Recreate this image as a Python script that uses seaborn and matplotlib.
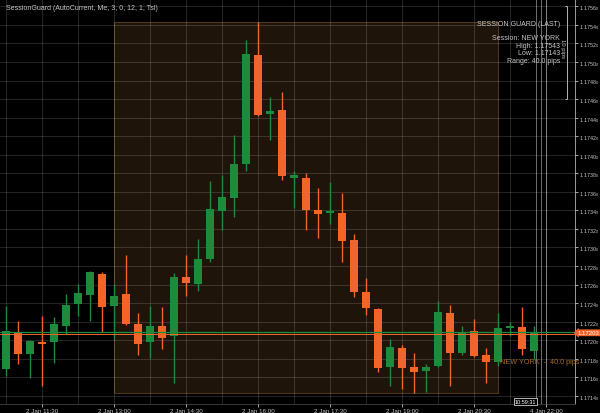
import matplotlib

matplotlib.use("Agg")
import matplotlib.pyplot as plt  # noqa: E402
import numpy as np  # noqa: E402
import seaborn as sns  # noqa: E402
from matplotlib.patches import Rectangle  # noqa: E402

# 15 minute candles, 2 Jan 10:45 .. 21:45
opens = [1.17169, 1.17208, 1.17185, 1.17198, 1.17198, 1.17215, 1.17239, 1.17249, 1.17271, 1.17237,
         1.17250, 1.17218, 1.17198, 1.17215, 1.17204, 1.17268, 1.17261, 1.17288, 1.17339, 1.17353,
         1.17390, 1.17508, 1.17444, 1.17448, 1.17375, 1.17375, 1.17340, 1.17337, 1.17337, 1.17308,
         1.17252, 1.17234, 1.17171, 1.17192, 1.17171, 1.17167, 1.17172, 1.17229, 1.17186, 1.17210,
         1.17184, 1.17177, 1.17213, 1.17214, 1.17188]
highs = [1.17237, 1.17221, 1.17200, 1.17226, 1.17225, 1.17250, 1.17261, 1.17275, 1.17273, 1.17261,
         1.17292, 1.17229, 1.17237, 1.17236, 1.17272, 1.17292, 1.17309, 1.17372, 1.17378, 1.17421,
         1.17524, 1.17543, 1.17462, 1.17468, 1.17382, 1.17380, 1.17364, 1.17371, 1.17359, 1.17315,
         1.17267, 1.17235, 1.17201, 1.17195, 1.17186, 1.17174, 1.17242, 1.17238, 1.17215, 1.17223,
         1.17192, 1.17229, 1.17220, 1.17236, 1.17215]
lows = [1.17161, 1.17174, 1.17159, 1.17151, 1.17175, 1.17207, 1.17226, 1.17221, 1.17209, 1.17201,
        1.17216, 1.17184, 1.17181, 1.17191, 1.17154, 1.17248, 1.17253, 1.17284, 1.17319, 1.17333,
        1.17382, 1.17442, 1.17416, 1.17373, 1.17343, 1.17319, 1.17310, 1.17325, 1.17284, 1.17247,
        1.17227, 1.17166, 1.17151, 1.17147, 1.17143, 1.17144, 1.17171, 1.17151, 1.17184, 1.17182,
        1.17154, 1.17172, 1.17204, 1.17184, 1.17180]
closes = [1.17210, 1.17185, 1.17199, 1.17196, 1.17218, 1.17238, 1.17251, 1.17274, 1.17236, 1.17248,
          1.17218, 1.17196, 1.17215, 1.17202, 1.17268, 1.17262, 1.17288, 1.17341, 1.17354, 1.17390,
          1.17509, 1.17443, 1.17447, 1.17377, 1.17378, 1.17340, 1.17336, 1.17339, 1.17307, 1.17252,
          1.17235, 1.17170, 1.17193, 1.17170, 1.17166, 1.17171, 1.17230, 1.17186, 1.17208, 1.17183,
          1.17177, 1.17213, 1.17214, 1.17190, 1.17209]

time_ticks = [3, 9, 15, 21, 27, 33, 39, 45]
time_labels = ["2 Jan 11:30", "2 Jan 13:00", "2 Jan 14:30", "2 Jan 16:00",
               "2 Jan 17:30", "2 Jan 19:00", "2 Jan 20:30", "4 Jan 22:00"]
price_ticks = [1.1714, 1.1716, 1.1718, 1.1720, 1.1722, 1.1724, 1.1726, 1.1728, 1.1730, 1.1732,
               1.1734, 1.1736, 1.1738, 1.1740, 1.1742, 1.1744, 1.1746, 1.1748, 1.1750, 1.1752,
               1.1754, 1.1756]

session_start, session_end = 9, 41
session_high, session_low = 1.17543, 1.17143
last_bid, last_ask = 1.17209, 1.17207
marker_bars = [44.17, 44.58, 45.0]

GREEN = "#1f8a3b"
ORANGE = "#f2642a"
TEXT = "#c4c4c4"

sns.set_theme(style="dark", rc={"axes.facecolor": "black", "figure.facecolor": "black"})
plt.rcParams["font.family"] = ["Liberation Sans", "DejaVu Sans"]
plt.rcParams["mathtext.default"] = "regular"

fig = plt.figure(figsize=(6, 4.14), dpi=100, facecolor="black")
ax = fig.add_axes([0, 9 / 414, 575 / 600, 405 / 414], facecolor="black")

# session box sits under the grid
ax.add_patch(Rectangle((session_start, session_low), session_end - session_start,
                       session_high - session_low, facecolor="#1e1409", edgecolor="#4d3619",
                       lw=0.8, zorder=0.2))

x = np.arange(len(opens))
o = np.array(opens)
c = np.array(closes)
colors = [GREEN if cc >= oo else ORANGE for oo, cc in zip(o, c)]
body_low = np.minimum(o, c)
body_h = np.maximum(np.abs(c - o), 0.000018)
ax.vlines(x, lows, highs, colors=colors, lw=1.0, zorder=3)
ax.bar(x, body_h, bottom=body_low, width=0.68, color=colors, edgecolor="none", zorder=4)

ax.axhline(last_bid, color=GREEN, lw=0.9, zorder=5)
ax.axhline(last_ask, color=ORANGE, lw=0.7, zorder=5)

for m in marker_bars:
    ax.axvline(m, color="#6e6e6e", lw=0.7, zorder=2)

ax.set_xlim(-0.5, 47.42)
ax.set_ylim(1.171312, 1.175679)

ax.set_xticks(time_ticks)
ax.set_xticklabels(time_labels)
ax.set_xticks(np.arange(0, 48, 3), minor=True)
ax.set_yticks(price_ticks)
ax.set_yticklabels([f"{p:.4f}$_0$" for p in price_ticks])
ax.yaxis.tick_right()
ax.grid(True, which="both", color="white", alpha=0.14, lw=0.8, zorder=1)
ax.set_axisbelow(False)
ax.tick_params(axis="x", which="major", labelsize=4.5, colors=TEXT, length=2, width=0.6, pad=1,
               bottom=True, direction="out")
ax.tick_params(axis="x", which="minor", length=0)
ax.tick_params(axis="y", labelsize=3.9, colors=TEXT, length=2, width=0.6, pad=1, right=True)
for side in ["top", "left"]:
    ax.spines[side].set_visible(False)
ax.spines["right"].set_color("#9a9a9a")
ax.spines["right"].set_linewidth(0.7)
ax.spines["bottom"].set_color("#3a3a3a")
ax.spines["bottom"].set_linewidth(0.7)

# texts
ax.text(0.01, 1 - 9 / 405, "SessionGuard (AutoCurrent, Me, 3, 0, 12, 1, Tsl)", transform=ax.transAxes,
        fontsize=5, color=TEXT, va="center", ha="left")
info = [("SESSION GUARD (LAST)", 24), ("Session: NEW YORK", 38.5), ("High: 1.17543", 46),
        ("Low: 1.17143", 53.5), ("Range: 40.0 pips", 61.5)]
for txt, ypix in info:
    ax.text(560 / 575, 1 - ypix / 405, txt, transform=ax.transAxes, fontsize=5,
            color=TEXT, va="center", ha="right")
ax.text(41.2, 1.17177, "NEW YORK  -  40.0 pips", fontsize=5.2, color="#a8692c",
        va="center", ha="left", zorder=6)

ax.vlines(46.75, 1.1746, 1.1756, color="#b5b5b5", lw=0.7, zorder=6)
ax.hlines([1.1756, 1.1746], 46.55, 46.75, color="#b5b5b5", lw=0.7, zorder=6)
ax.text(46.35, 1.17515, "10 pips", fontsize=4.2, color=TEXT, rotation=-90,
        va="center", ha="center", zorder=6)

ax.text(1.004, last_bid - 0.00001, "1.17203", transform=ax.get_yaxis_transform(),
        fontsize=4.3, color="white", va="center", ha="left", clip_on=False, zorder=7,
        bbox=dict(boxstyle="larrow,pad=0.15", fc=ORANGE, ec="none"))
ax.text(43.3, 1.17134, "10:59:31", fontsize=4, color="white", va="center", ha="center",
        clip_on=False, zorder=7,
        bbox=dict(boxstyle="square,pad=0.15", fc="black", ec="#cfcfcf", lw=0.6))

fig.savefig("out.png", dpi=100, facecolor="black")
